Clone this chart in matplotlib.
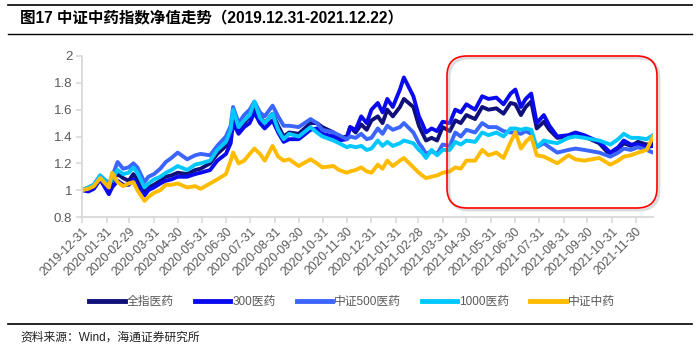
import matplotlib
matplotlib.use("Agg")
import matplotlib.pyplot as plt
from matplotlib.patches import FancyBboxPatch
import pandas as pd

plt.rcParams['font.family'] = ['Liberation Sans', 'Noto Sans CJK SC', 'DejaVu Sans']

dates = [
    "2019-12-31", "2020-01-08", "2020-01-15", "2020-01-23", "2020-02-03", "2020-02-07",
    "2020-02-14", "2020-02-21", "2020-02-28", "2020-03-05", "2020-03-10", "2020-03-19",
    "2020-03-24", "2020-03-31", "2020-04-08", "2020-04-15", "2020-04-22", "2020-04-30",
    "2020-05-12", "2020-05-22", "2020-05-29", "2020-06-10", "2020-06-19", "2020-06-30",
    "2020-07-06", "2020-07-09", "2020-07-16", "2020-07-23", "2020-07-30", "2020-08-05",
    "2020-08-12", "2020-08-18", "2020-08-28", "2020-09-04", "2020-09-11", "2020-09-18",
    "2020-09-30", "2020-10-15", "2020-10-23", "2020-10-30", "2020-11-13", "2020-11-20",
    "2020-11-30", "2020-12-04", "2020-12-11", "2020-12-18", "2020-12-25", "2020-12-31",
    "2021-01-08", "2021-01-14", "2021-01-20", "2021-01-27", "2021-02-05", "2021-02-10",
    "2021-02-22", "2021-03-01", "2021-03-05", "2021-03-10", "2021-03-17", "2021-03-24",
    "2021-03-31", "2021-04-09", "2021-04-16", "2021-04-23", "2021-04-30", "2021-05-11",
    "2021-05-20", "2021-05-28", "2021-06-07", "2021-06-16", "2021-06-25", "2021-07-01",
    "2021-07-08", "2021-07-14", "2021-07-21", "2021-07-28", "2021-08-06", "2021-08-13",
    "2021-08-23", "2021-09-06", "2021-09-15", "2021-09-26", "2021-10-15", "2021-10-29",
    "2021-11-08", "2021-11-15", "2021-11-24", "2021-12-03", "2021-12-14", "2021-12-22",
]

quanzhi = [
    1.00, 1.01, 1.03, 1.10, 1.01, 1.07, 1.12, 1.09, 1.07, 1.12, 1.08, 0.99,
    1.02, 1.04, 1.07, 1.10, 1.11, 1.13, 1.12, 1.15, 1.16, 1.20, 1.27, 1.33,
    1.42, 1.57, 1.45, 1.50, 1.55, 1.62, 1.55, 1.50, 1.57, 1.48, 1.40, 1.43,
    1.42, 1.50, 1.50, 1.47, 1.43, 1.39, 1.40, 1.47, 1.43, 1.49, 1.45, 1.52,
    1.55, 1.50, 1.60, 1.55, 1.62, 1.68, 1.62, 1.48, 1.43, 1.37, 1.39, 1.37,
    1.47, 1.44, 1.52, 1.50, 1.56, 1.53, 1.62, 1.60, 1.61, 1.57, 1.65, 1.64,
    1.56, 1.62, 1.66, 1.46, 1.51, 1.45, 1.39, 1.40, 1.42, 1.40, 1.35, 1.26,
    1.31, 1.35, 1.33, 1.36, 1.34, 1.35,
]
hs300 = [
    1.00, 0.99, 1.01, 1.08, 0.97, 1.02, 1.07, 1.04, 1.04, 1.08, 1.04, 0.96,
    1.00, 1.02, 1.05, 1.07, 1.08, 1.10, 1.10, 1.12, 1.13, 1.15, 1.22, 1.27,
    1.35, 1.50, 1.42, 1.47, 1.50, 1.58, 1.50, 1.46, 1.52, 1.43, 1.36, 1.38,
    1.38, 1.45, 1.46, 1.42, 1.40, 1.37, 1.38, 1.47, 1.45, 1.55, 1.50, 1.60,
    1.65, 1.58, 1.68, 1.62, 1.75, 1.84, 1.70, 1.55, 1.50, 1.43, 1.46, 1.44,
    1.51, 1.50, 1.60, 1.58, 1.64, 1.60, 1.70, 1.68, 1.69, 1.64, 1.72, 1.75,
    1.62, 1.68, 1.72, 1.50, 1.56, 1.48, 1.40, 1.41, 1.43, 1.41, 1.36, 1.28,
    1.32, 1.37, 1.34, 1.34, 1.32, 1.33,
]
zz500 = [
    1.00, 1.02, 1.04, 1.11, 1.05, 1.10, 1.21, 1.16, 1.17, 1.20, 1.17, 1.06,
    1.10, 1.12, 1.16, 1.21, 1.24, 1.28, 1.23, 1.26, 1.27, 1.26, 1.33, 1.40,
    1.48, 1.62, 1.50, 1.56, 1.60, 1.66, 1.58, 1.55, 1.63, 1.55, 1.48, 1.48,
    1.47, 1.53, 1.50, 1.45, 1.43, 1.41, 1.38, 1.40, 1.39, 1.42, 1.38, 1.39,
    1.46, 1.42, 1.48, 1.45, 1.47, 1.50, 1.43, 1.35, 1.32, 1.27, 1.29, 1.27,
    1.34, 1.33, 1.43, 1.40, 1.45, 1.43, 1.50, 1.47, 1.47, 1.44, 1.43, 1.43,
    1.42, 1.44, 1.42, 1.32, 1.35, 1.32, 1.28, 1.30, 1.31, 1.30, 1.28, 1.25,
    1.28, 1.31, 1.30, 1.32, 1.30, 1.28,
]
zz1000 = [
    1.00, 1.02, 1.04, 1.11, 1.04, 1.08, 1.15, 1.12, 1.13, 1.17, 1.13, 1.02,
    1.05, 1.08, 1.10, 1.13, 1.15, 1.18, 1.15, 1.19, 1.20, 1.22, 1.30, 1.36,
    1.45, 1.60, 1.47, 1.52, 1.56, 1.66, 1.54, 1.50, 1.57, 1.45, 1.38, 1.42,
    1.40, 1.47, 1.43, 1.40, 1.37, 1.35, 1.32, 1.33, 1.32, 1.33, 1.30, 1.31,
    1.37, 1.33, 1.36, 1.33, 1.35, 1.37, 1.35, 1.30, 1.28, 1.24, 1.30, 1.26,
    1.30, 1.30, 1.36, 1.34, 1.37, 1.36, 1.43, 1.41, 1.43, 1.40, 1.46, 1.46,
    1.45, 1.46, 1.45, 1.32, 1.37, 1.36, 1.35, 1.39, 1.40, 1.39, 1.37, 1.34,
    1.38, 1.42, 1.39, 1.39, 1.38, 1.41,
]
zzzy = [
    1.00, 1.01, 1.03, 1.09, 1.02, 1.13, 1.06, 1.03, 1.05, 1.06, 1.00, 0.92,
    0.95, 0.98, 1.00, 1.04, 1.04, 1.05, 1.02, 1.03, 1.01, 1.05, 1.08, 1.12,
    1.22, 1.28, 1.20, 1.22, 1.27, 1.31, 1.27, 1.22, 1.33, 1.25, 1.22, 1.23,
    1.18, 1.23, 1.20, 1.17, 1.18, 1.15, 1.13, 1.14, 1.15, 1.17, 1.14, 1.13,
    1.19, 1.16, 1.22, 1.18, 1.22, 1.24, 1.17, 1.13, 1.11, 1.09, 1.10, 1.11,
    1.13, 1.14, 1.17, 1.16, 1.22, 1.22, 1.30, 1.26, 1.28, 1.24, 1.36, 1.43,
    1.31, 1.36, 1.40, 1.26, 1.25, 1.23, 1.20, 1.26, 1.23, 1.22, 1.24, 1.19,
    1.22, 1.25, 1.26, 1.28, 1.30, 1.40,
]

names = ["全指医药", "300医药", "中证500医药", "1000医药", "中证中药"]
colors = ["#10107a", "#0a0aee", "#3a66ff", "#00c8ff", "#ffbb00"]
tick_dates = pd.to_datetime([
    "2019-12-31", "2020-01-31", "2020-02-29", "2020-03-31", "2020-04-30", "2020-05-31",
    "2020-06-30", "2020-07-31", "2020-08-31", "2020-09-30", "2020-10-31", "2020-11-30",
    "2020-12-31", "2021-01-31", "2021-02-28", "2021-03-31", "2021-04-30", "2021-05-31",
    "2021-06-30", "2021-07-31", "2021-08-31", "2021-09-30", "2021-10-31", "2021-11-30",
])

x = pd.to_datetime(dates)

fig = plt.figure(figsize=(7.0, 3.51), dpi=100)
ax = fig.add_axes([82 / 700, 1 - 217 / 351, (653 - 82) / 700, (217 - 56) / 351])

for vals, name, c in zip([quanzhi, hs300, zz500, zz1000, zzzy], names, colors):
    ax.plot(x, vals, color=c, lw=2.8, label=name, solid_joinstyle="round")

ax.set_ylim(0.8, 2.0)
ax.set_yticks([0.8, 1.0, 1.2, 1.4, 1.6, 1.8, 2.0])
ax.set_yticklabels(["0.8", "1", "1.2", "1.4", "1.6", "1.8", "2"])
ax.set_xlim(pd.Timestamp("2019-12-31"), pd.Timestamp("2021-12-22"))
ax.set_xticks(tick_dates)
ax.set_xticklabels([d.strftime("%Y-%m-%d") for d in tick_dates], rotation=45,
                   ha="right", rotation_mode="anchor")

for s in ["top", "right"]:
    ax.spines[s].set_visible(False)
for s in ["left", "bottom"]:
    ax.spines[s].set_color("#d9d9d9")
    ax.spines[s].set_linewidth(1.3)
ax.tick_params(axis="x", colors="#d9d9d9", labelcolor="#595959", labelsize=8.8,
               length=4, width=1.2, direction="out", pad=2)
ax.tick_params(axis="y", colors="#d9d9d9", labelcolor="#595959", labelsize=9.5,
               length=4, width=1.2, pad=3)

# red rounded highlight box with soft shadow
shadow = FancyBboxPatch((4.49, 1.41), 2.10, 1.52, boxstyle="round,pad=0,rounding_size=0.2",
                        transform=fig.dpi_scale_trans, fill=False, edgecolor="#999999",
                        lw=2, alpha=0.35)
box = FancyBboxPatch((4.47, 1.43), 2.10, 1.52, boxstyle="round,pad=0,rounding_size=0.2",
                     transform=fig.dpi_scale_trans, fill=False, edgecolor="#ff0000", lw=1.2)
fig.patches.extend([shadow, box])

# title and rules
fig.add_artist(plt.Line2D([8 / 700, 692 / 700], [1 - 5 / 351] * 2, color="black", lw=1.2))
fig.add_artist(plt.Line2D([8 / 700, 692 / 700], [1 - 34 / 351] * 2, color="black", lw=1.0))
fig.text(20 / 700, 1 - 19 / 351, "图17 中证中药指数净值走势（2019.12.31-2021.12.22）",
         fontsize=11.2, fontweight="bold", va="center", ha="left")

leg = fig.legend(loc="center", bbox_to_anchor=(352 / 700, 1 - 302 / 351), ncol=5,
                 frameon=False, fontsize=8.5, handlelength=3.0, handletextpad=0.15,
                 columnspacing=1.8)
for line in leg.get_lines():
    line.set_linewidth(3.5)
for t in leg.get_texts():
    t.set_color("#595959")

fig.add_artist(plt.Line2D([8 / 700, 692 / 700], [1 - 324 / 351] * 2, color="black", lw=1.2))
fig.text(20 / 700, 1 - 338 / 351, "资料来源：Wind，海通证券研究所", fontsize=8.5,
         va="center", ha="left", color="#222222")

fig.savefig("out.png", dpi=100)
